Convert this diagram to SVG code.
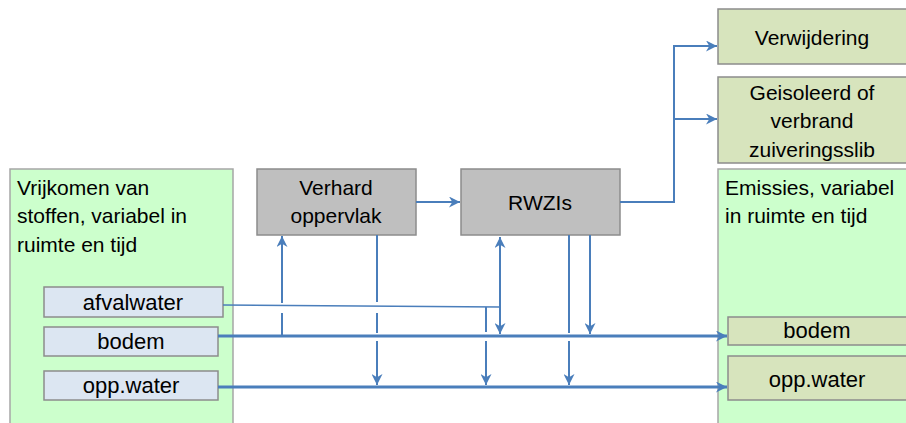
<svg xmlns="http://www.w3.org/2000/svg" width="906" height="423" viewBox="0 0 906 423">
<style>
  .t { font-family: "Liberation Sans", Arial, sans-serif; font-size: 21px; fill: #000; }
  .s { font-size: 22px; }
  .c { text-anchor: middle; }
  .green { fill: #ccffcc; stroke: #a6a6a6; stroke-width: 1.5; }
  .blue { fill: #dce6f2; stroke: #8c8c8c; stroke-width: 1.5; }
  .gray { fill: #bfbfbf; stroke: #8c8c8c; stroke-width: 1.5; }
  .olive { fill: #d7e4bd; stroke: #8c8c8c; stroke-width: 1.5; }
  .ln { fill: none; stroke: #4a7ebb; stroke-width: 2; }
  .thin { stroke-width: 1.5; }
  .thick { stroke-width: 3; }
</style>
<defs>
  <marker id="arr" markerUnits="userSpaceOnUse" markerWidth="11" markerHeight="11" viewBox="0 0 10 10" refX="10" refY="5" orient="auto-start-reverse">
    <path d="M0,0 L10,5 L0,10 L3,5 z" fill="#4a7ebb"/>
  </marker>
</defs>

<g id="bron">
  <rect class="green" x="10" y="169" width="223" height="260"/>
  <text class="t" x="17" y="195">Vrijkomen van</text>
  <text class="t" x="17" y="223">stoffen, variabel in</text>
  <text class="t" x="17" y="252">ruimte en tijd</text>
</g>
<g id="afvalwater">
  <rect class="blue" x="44" y="287" width="179" height="30"/>
  <text class="t s c" x="133" y="310">afvalwater</text>
</g>
<g id="bodem-bron">
  <rect class="blue" x="44" y="327" width="174" height="29"/>
  <text class="t s c" x="131" y="349">bodem</text>
</g>
<g id="oppwater-bron">
  <rect class="blue" x="44" y="371" width="174" height="29"/>
  <text class="t s c" x="131" y="393">opp.water</text>
</g>
<g id="verhard">
  <rect class="gray" x="257" y="169" width="159" height="66"/>
  <text class="t c" x="336" y="195">Verhard</text>
  <text class="t c" x="336" y="223">oppervlak</text>
</g>
<g id="rwzi">
  <rect class="gray" x="461" y="169" width="159" height="66"/>
  <text class="t c" x="540" y="210">RWZIs</text>
</g>
<g id="verwijdering">
  <rect class="olive" x="718" y="9" width="190" height="55"/>
  <text class="t c" x="812" y="45">Verwijdering</text>
</g>
<g id="slib">
  <rect class="olive" x="718" y="77" width="190" height="86"/>
  <text class="t c" x="812" y="100">Geisoleerd of</text>
  <text class="t c" x="812" y="128">verbrand</text>
  <text class="t c" x="812" y="157">zuiveringsslib</text>
</g>
<g id="emissies">
  <rect class="green" x="718" y="169" width="190" height="260"/>
  <text class="t" x="725" y="195">Emissies, variabel</text>
  <text class="t" x="725" y="223">in ruimte en tijd</text>
</g>
<g id="bodem-emissie">
  <rect class="olive" x="728" y="317" width="180" height="28"/>
  <text class="t s c" x="817" y="338">bodem</text>
</g>
<g id="oppwater-emissie">
  <rect class="olive" x="728" y="356" width="180" height="44"/>
  <text class="t s c" x="817" y="387">opp.water</text>
</g>

<g id="connectors">
  <path class="ln thin" d="M223,305 L500,307"/>
  <path class="ln" d="M500,237 L500,334" marker-start="url(#arr)" marker-end="url(#arr)"/>
  <path class="ln" d="M486,307 L486,332"/>
  <path class="ln" d="M486,341 L486,385" marker-end="url(#arr)"/>
  <path class="ln thick" d="M218,336 L727,336" marker-end="url(#arr)"/>
  <path class="ln thick" d="M218,387 L727,387" marker-end="url(#arr)"/>
  <path class="ln" d="M282,336 L282,313"/>
  <path class="ln" d="M282,303 L282,236" marker-end="url(#arr)"/>
  <path class="ln" d="M377,235 L377,302"/>
  <path class="ln" d="M377,313 L377,333"/>
  <path class="ln" d="M377,341 L377,385" marker-end="url(#arr)"/>
  <path class="ln" d="M569,235 L569,333"/>
  <path class="ln" d="M569,341 L569,385" marker-end="url(#arr)"/>
  <path class="ln" d="M590,235 L590,334" marker-end="url(#arr)"/>
  <path class="ln" d="M416,202 L460,202" marker-end="url(#arr)"/>
  <path class="ln" d="M620,202 L674,202 L674,46 L717,46" marker-end="url(#arr)"/>
  <path class="ln" d="M674,119 L717,119" marker-end="url(#arr)"/>
</g>
</svg>
